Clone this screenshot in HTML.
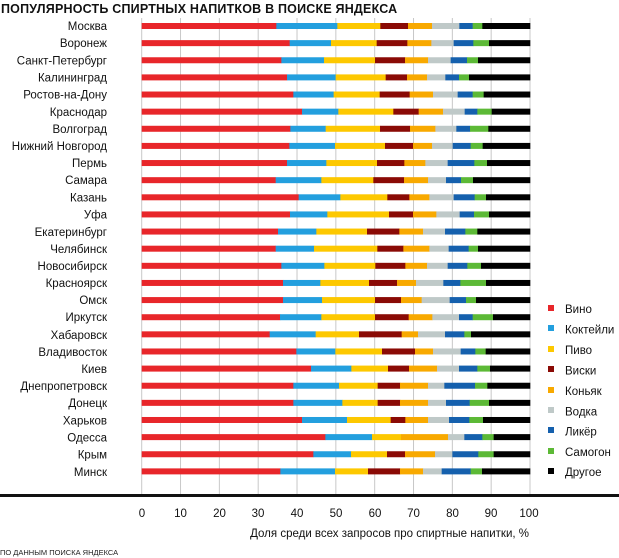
<!DOCTYPE html>
<html><head><meta charset="utf-8"><style>
body{margin:0;background:#fff;}
svg{display:block;font-family:"Liberation Sans","DejaVu Sans",sans-serif;}
</style></head><body>
<svg id="s" width="619" height="558" viewBox="0 0 619 558" xmlns="http://www.w3.org/2000/svg">
<text x="1" y="13" font-size="12.5" font-weight="bold" letter-spacing="0.2" fill="#111">ПОПУЛЯРНОСТЬ СПИРТНЫХ НАПИТКОВ В ПОИСКЕ ЯНДЕКСА</text>
<g id="grid"></g>
<g id="bars"></g>
<g font-size="11.5" fill="#111" text-anchor="end">
<text x="107" y="30">Москва</text>
<text x="107" y="47">Воронеж</text>
<text x="107" y="64.5">Санкт-Петербург</text>
<text x="107" y="81.5">Калининград</text>
<text x="107" y="98.5">Ростов-на-Дону</text>
<text x="107" y="116">Краснодар</text>
<text x="107" y="133">Волгоград</text>
<text x="107" y="150">Нижний Новгород</text>
<text x="107" y="167">Пермь</text>
<text x="107" y="184">Самара</text>
<text x="107" y="201.5">Казань</text>
<text x="107" y="218.5">Уфа</text>
<text x="107" y="236">Екатеринбург</text>
<text x="107" y="253">Челябинск</text>
<text x="107" y="270">Новосибирск</text>
<text x="107" y="287">Красноярск</text>
<text x="107" y="304">Омск</text>
<text x="107" y="321">Иркутск</text>
<text x="107" y="339">Хабаровск</text>
<text x="107" y="356">Владивосток</text>
<text x="107" y="373">Киев</text>
<text x="107" y="390">Днепропетровск</text>
<text x="107" y="407">Донецк</text>
<text x="107" y="424.5">Харьков</text>
<text x="107" y="441.5">Одесса</text>
<text x="107" y="458.5">Крым</text>
<text x="107" y="476">Минск</text>
</g>
<rect x="0" y="494" width="619" height="3" fill="#111"/>
<g font-size="11.5" fill="#111" text-anchor="middle">
<text x="142" y="517">0</text><text x="180.5" y="517">10</text><text x="219.5" y="517">20</text>
<text x="258" y="517">30</text><text x="297" y="517">40</text><text x="336" y="517">50</text>
<text x="375" y="517">60</text><text x="413.5" y="517">70</text><text x="452.5" y="517">80</text>
<text x="491" y="517">90</text><text x="529" y="517">100</text>
</g>
<text x="529" y="537" font-size="11.5" fill="#111" text-anchor="end">Доля среди всех запросов про спиртные напитки, %</text>
<text x="0" y="555" font-size="7.5" fill="#222">ПО ДАННЫМ ПОИСКА ЯНДЕКСА</text>
<g font-size="11.5" fill="#111">
<rect x="548" y="305" width="6" height="6" fill="#e8262a"/><text x="565" y="313">Вино</text>
<rect x="548" y="325" width="6" height="6" fill="#239fde"/><text x="565" y="333.5">Коктейли</text>
<rect x="548" y="346" width="6" height="6" fill="#fdc800"/><text x="565" y="354">Пиво</text>
<rect x="548" y="366" width="6" height="6" fill="#8a0a05"/><text x="565" y="374.5">Виски</text>
<rect x="548" y="387" width="6" height="6" fill="#f8a900"/><text x="565" y="395">Коньяк</text>
<rect x="548" y="407" width="6" height="6" fill="#bfc9c8"/><text x="565" y="415.5">Водка</text>
<rect x="548" y="427" width="6" height="6" fill="#1560ad"/><text x="565" y="435.5">Ликёр</text>
<rect x="548" y="448" width="6" height="6" fill="#5cb936"/><text x="565" y="456">Самогон</text>
<rect x="548" y="468" width="6" height="6" fill="#000"/><text x="565" y="476">Другое</text>
</g>
</svg>
<script>
var ns="http://www.w3.org/2000/svg";
function X(z){return 130+z/3;}
var cols=["#e8262a","#239fde","#fdc800","#8a0a05","#f8a900","#bfc9c8","#1560ad","#5cb936","#000"];
var rows=[
[439,622,751,834,906,988,1028,1057],[479,603,740,832,904,971,1030,1077],[454,582,735,825,894,962,1011,1044],
[471,617,767,831,891,946,987,1017],[490,611,749,839,909,983,1028,1061],[516,625,790,866,939,1004,1042,1085],
[481,587,750,840,916,979,1020,1075],[478,615,765,849,906,968,1022,1058],[471,589,741,823,886,953,1033,1071],
[437,574,730,822,894,948,993,1029],[506,631,772,838,898,971,1034,1068],[480,592,777,849,919,989,1032,1077],
[444,559,711,808,879,945,1006,1042],[437,552,742,820,898,956,1016,1044],[454,583,736,826,891,953,1012,1053],
[459,571,717,801,858,940,991,1068],[459,576,735,813,875,959,1008,1038],[450,574,735,836,907,987,1028,1089],
[419,557,687,815,864,945,1003,1023],[499,616,756,855,909,992,1036,1067],[543,664,774,837,921,987,1042,1080],
[490,627,743,810,894,943,1035,1072],[490,637,743,810,894,948,1019,1077],[516,651,782,826,894,957,1018,1059],
[586,726,813,813,954,1003,1057,1091],[550,663,771,825,915,967,1045,1091],[451,615,714,810,879,935,1022,1056]];
var g=document.getElementById("grid");
for(var k=0;k<=10;k++){var l=document.createElementNS(ns,"rect");var gx=141.7+k*38.83;
l.setAttribute("x",gx-0.5);l.setAttribute("y",18);l.setAttribute("width",1);l.setAttribute("height",476);l.setAttribute("fill","#c8c8c8");g.appendChild(l);}
var b=document.getElementById("bars");
rows.forEach(function(r,i){var yc=26+i*17.13;var pts=[35].concat(r).concat([1200]);
for(var j=0;j<9;j++){var x1=X(pts[j]),x2=X(pts[j+1]);if(x2-x1<0.1)continue;
var e=document.createElementNS(ns,"rect");e.setAttribute("x",x1);e.setAttribute("y",yc-3);
e.setAttribute("width",x2-x1+0.3);e.setAttribute("height",6);e.setAttribute("fill",cols[j]);b.appendChild(e);}});
</script>
</body></html>
